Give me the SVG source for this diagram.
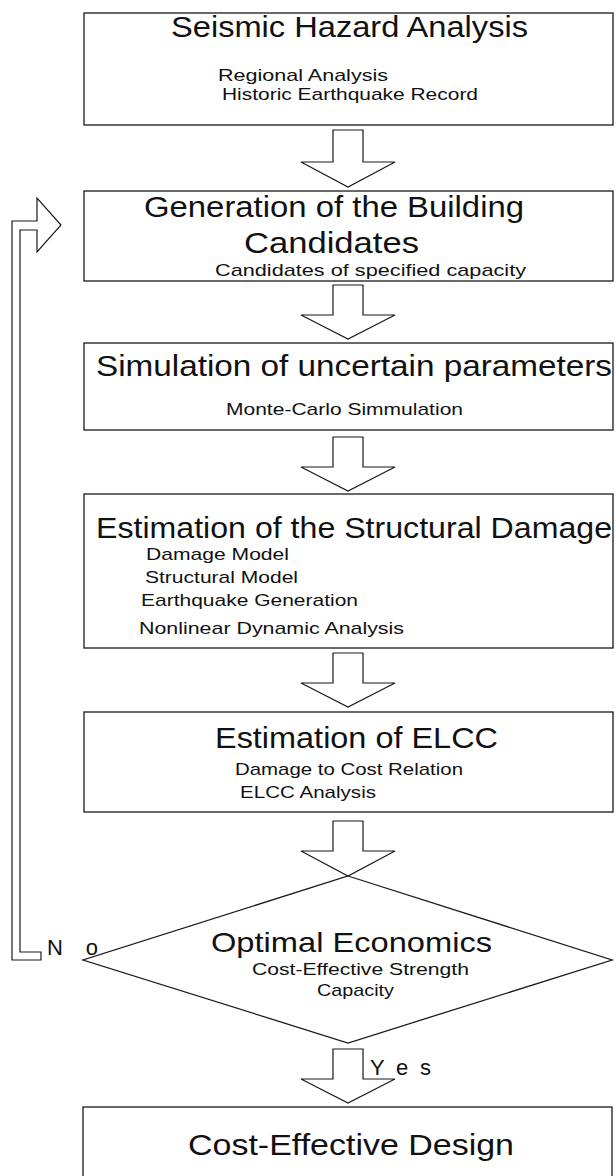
<svg xmlns="http://www.w3.org/2000/svg" width="616" height="1176" viewBox="0 0 616 1176">
<style>
.box{fill:#fff;stroke:#1a1a1a;stroke-width:1.3}
.arr{fill:#fff;stroke:#1a1a1a;stroke-width:1.2;stroke-linejoin:miter}
text{font-family:"Liberation Sans",Arial,sans-serif;fill:#111}
.t{font-size:30px}
.d{font-size:28px}
.s{font-size:17px}
.l{font-size:22px}
</style>
<rect width="616" height="1176" fill="#fff"/>
<g id="connectors">
<polygon class="arr" points="333,130 363,130 363,162 395,162 348,187 301,162 333,162"/>
<polygon class="arr" points="333,285 363,285 363,315 395,315 348,339 301,315 333,315"/>
<polygon class="arr" points="333,437 363,437 363,467 395,467 348,491 301,467 333,467"/>
<polygon class="arr" points="333,653 363,653 363,683 395,683 348,707 301,683 333,683"/>
<polygon class="arr" points="333,821 363,821 363,851 395,851 348,876 301,851 333,851"/>
<polygon class="arr" points="333,1049 363,1049 363,1079 395,1079 348,1103 301,1079 333,1079"/>
<polygon class="arr" points="41,952 20,952 20,230 37,230 37,252 61,225 37,198 37,221 12,221 12,960 41,960"/>
<text class="l" x="47" y="955" textLength="51" lengthAdjust="spacing">N o</text>
<text class="l" x="370" y="1075" textLength="61" lengthAdjust="spacing">Y e s</text>
</g>
<g id="n1">
<rect class="box" x="84" y="13" width="529" height="112"/>
<text class="t" x="171" y="37" textLength="357" lengthAdjust="spacingAndGlyphs">Seismic Hazard Analysis</text>
<text class="s" x="218" y="81" textLength="170" lengthAdjust="spacingAndGlyphs">Regional Analysis</text>
<text class="s" x="222" y="100" textLength="256" lengthAdjust="spacingAndGlyphs">Historic Earthquake Record</text>
</g>
<g id="n2">
<rect class="box" x="84" y="191" width="529" height="90"/>
<text class="t" x="144" y="217" textLength="380" lengthAdjust="spacingAndGlyphs">Generation of the Building</text>
<text class="t" x="244" y="253" textLength="175" lengthAdjust="spacingAndGlyphs">Candidates</text>
<text class="s" x="215" y="276" textLength="311" lengthAdjust="spacingAndGlyphs">Candidates of specified capacity</text>
</g>
<g id="n3">
<rect class="box" x="84" y="343" width="529" height="87"/>
<text class="t" x="96" y="376" textLength="516" lengthAdjust="spacingAndGlyphs">Simulation of uncertain parameters</text>
<text class="s" x="226" y="415" textLength="237" lengthAdjust="spacingAndGlyphs">Monte-Carlo Simmulation</text>
</g>
<g id="n4">
<rect class="box" x="84" y="494" width="529" height="154"/>
<text class="t" x="96" y="538" textLength="516" lengthAdjust="spacingAndGlyphs">Estimation of the Structural Damage</text>
<text class="s" x="146" y="560" textLength="143" lengthAdjust="spacingAndGlyphs">Damage Model</text>
<text class="s" x="145" y="583" textLength="153" lengthAdjust="spacingAndGlyphs">Structural Model</text>
<text class="s" x="141" y="606" textLength="217" lengthAdjust="spacingAndGlyphs">Earthquake Generation</text>
<text class="s" x="139" y="634" textLength="265" lengthAdjust="spacingAndGlyphs">Nonlinear Dynamic Analysis</text>
</g>
<g id="n5">
<rect class="box" x="84" y="712" width="529" height="100"/>
<text class="t" x="215" y="748" textLength="283" lengthAdjust="spacingAndGlyphs">Estimation of ELCC</text>
<text class="s" x="235" y="775" textLength="228" lengthAdjust="spacingAndGlyphs">Damage to Cost Relation</text>
<text class="s" x="240" y="798" textLength="136" lengthAdjust="spacingAndGlyphs">ELCC Analysis</text>
</g>
<g id="n6">
<polygon class="box" points="348,876 612,960 348,1043 83,960"/>
<text class="d" x="211" y="952" textLength="281" lengthAdjust="spacingAndGlyphs">Optimal Economics</text>
<text class="s" x="252" y="975" textLength="217" lengthAdjust="spacingAndGlyphs">Cost-Effective Strength</text>
<text class="s" x="317" y="996" textLength="77" lengthAdjust="spacingAndGlyphs">Capacity</text>
</g>
<g id="n7">
<rect class="box" x="83" y="1107" width="529" height="80"/>
<text class="t" x="188" y="1155" textLength="326" lengthAdjust="spacingAndGlyphs">Cost-Effective Design</text>
</g>
</svg>
